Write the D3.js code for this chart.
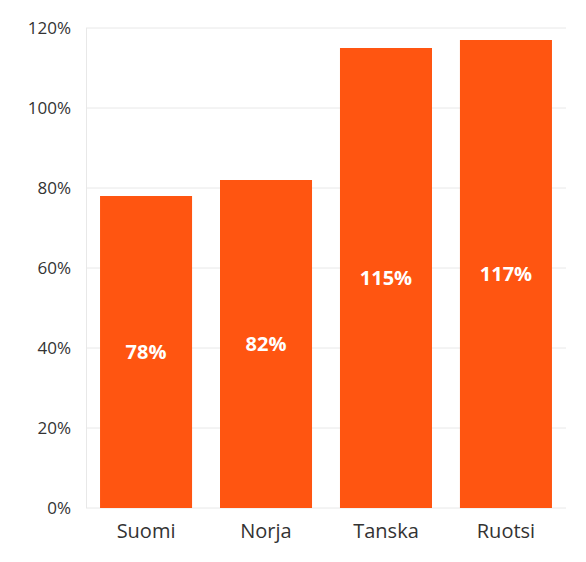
<!DOCTYPE html>
<html><head><meta charset="utf-8">
<script src="https://cdn.jsdelivr.net/npm/d3@7"></script>
<style>body{margin:0;background:#fff;font-family:"Open Sans",sans-serif}</style>
</head><body><svg id="c" width="586" height="562"></svg>
<script>
const categories = ['Suomi', 'Norja', 'Tanska', 'Ruotsi'];
const values = [78, 82, 115, 117];
const yTicks = [0, 20, 40, 60, 80, 100, 120];

const svg = d3.select('#c');
const x = d3.scaleBand().domain(categories).range([86, 566]).paddingInner(0.233).paddingOuter(0.117);
const y = d3.scaleLinear().domain([0, 120]).range([508, 28]);

// Gridlines
svg.selectAll('.grid').data(yTicks).join('line')
  .attr('x1', 86).attr('x2', 566)
  .attr('y1', d => y(d)).attr('y2', d => y(d))
  .attr('stroke', '#e8e8e8').attr('stroke-width', 1);
svg.append('line').attr('x1', 86.5).attr('x2', 86.5).attr('y1', 28).attr('y2', 508)
  .attr('stroke', '#e8e8e8');

// Y labels
svg.selectAll('.yl').data(yTicks).join('text')
  .attr('x', 71).attr('y', d => y(d)).attr('dy', '0.35em')
  .attr('text-anchor', 'end').attr('font-size', 17).attr('fill', '#333')
  .text(d => d + '%');

// Bars
svg.selectAll('.bar').data(values).join('rect')
  .attr('x', (d, i) => x(categories[i])).attr('width', x.bandwidth())
  .attr('y', d => y(d)).attr('height', d => y(0) - y(d))
  .attr('fill', '#ff5511');

// Value labels
svg.selectAll('.vl').data(values).join('text')
  .attr('x', (d, i) => x(categories[i]) + x.bandwidth() / 2)
  .attr('y', d => (y(d) + y(0)) / 2).attr('dy', '0.35em')
  .attr('text-anchor', 'middle').attr('font-size', 20).attr('font-weight', 'bold')
  .attr('fill', '#fff').text(d => d + '%');

// X labels
svg.selectAll('.xl').data(categories).join('text')
  .attr('x', d => x(d) + x.bandwidth() / 2).attr('y', 531).attr('dy', '0.35em')
  .attr('text-anchor', 'middle').attr('font-size', 20).attr('fill', '#333')
  .text(d => d);
</script></body></html>
